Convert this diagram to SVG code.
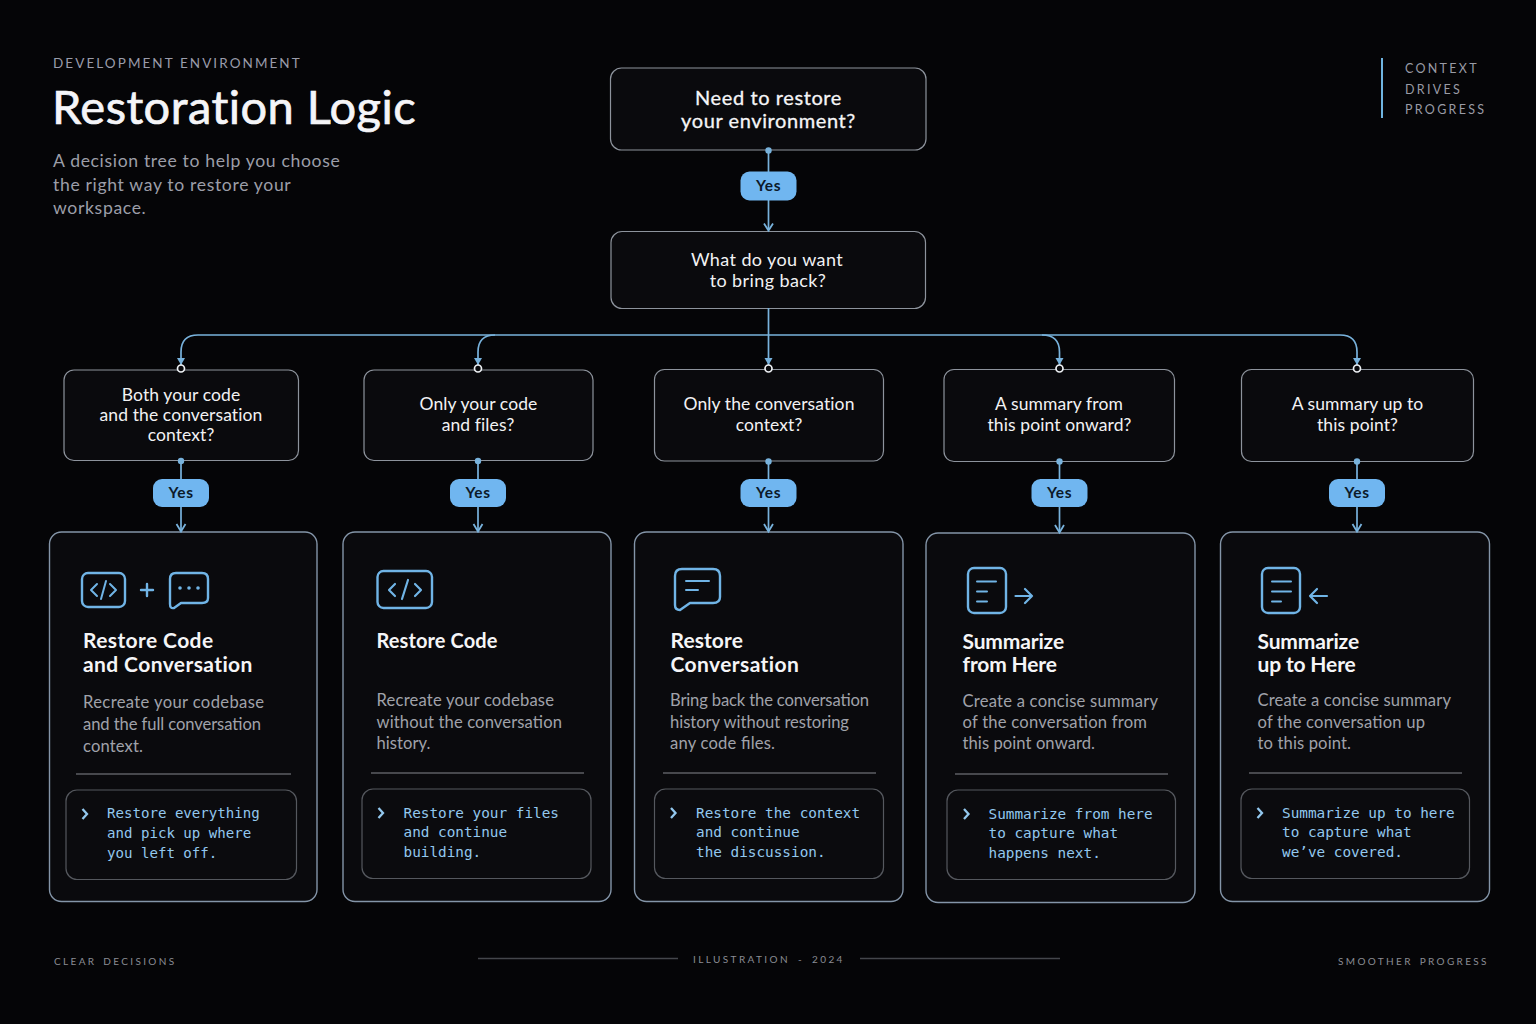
<svg xmlns="http://www.w3.org/2000/svg" width="1536" height="1024" viewBox="0 0 1536 1024">
<style>
text{font-family:"Lato","Noto Sans",sans-serif}
.q{fill:#0a0a0d;stroke:#8d939c;stroke-width:1.2}
.card{fill:#0a0a0d;stroke:#8495a8;stroke-width:1.4}
.inner{fill:#0b0b0e;stroke:#55585e;stroke-width:1.2}
.div{stroke:#5c5e63;stroke-width:1.3}
.qt{fill:#f2f2f4;font-size:17.5px;text-anchor:middle;letter-spacing:.1px}
.qb{fill:#f5f5f7;font-size:20px;text-anchor:middle;letter-spacing:.6px;stroke:#f5f5f7;stroke-width:.3px}
.title{fill:#f5f5f7;font-size:21px;font-weight:700;letter-spacing:.4px}
.tn{letter-spacing:-.15px}
.body{fill:#a0a2aa;font-size:16.6px}
.mono{fill:#93c8ee;font-family:"DejaVu Sans Mono","Liberation Mono",monospace;font-size:14.35px}
.m1{font-size:14.1px}
.pill{fill:#70b6f0}
.pt{fill:#0c1a2a;font-size:15.5px;font-weight:700;text-anchor:middle;letter-spacing:.6px}
.line{fill:none;stroke:#78b2dc;stroke-width:1.7}
.head{fill:none;stroke:#78b2dc;stroke-width:1.8}
.dot{fill:#78b2dc}
.ring{fill:#0a0a0d;stroke:#eef1f4;stroke-width:1.7}
.ic{fill:none;stroke:#70b4e6;stroke-width:2.4;stroke-linecap:round;stroke-linejoin:round}
.chev{fill:none;stroke:#93c8ee;stroke-width:2.3}
.foot{fill:#8a8c94;font-size:10px;letter-spacing:2.35px;word-spacing:2px}
.side{fill:#999ba5;font-size:12.5px;letter-spacing:2.3px}
</style>
<rect width="1536" height="1024" fill="#050507"/>

<g id="header">
<text x="53" y="68" fill="#9a9caa" font-size="13.500" letter-spacing="2.07">DEVELOPMENT ENVIRONMENT</text>
<text x="52" y="124" fill="#f5f5f8" stroke="#f5f5f8" stroke-width=".7" font-size="47" letter-spacing=".45">Restoration Logic</text>
<text x="53" y="167" fill="#9c9ea8" font-size="17.600" letter-spacing=".65">A decision tree to help you choose</text>
<text x="53" y="190.500" fill="#9c9ea8" font-size="17.600" letter-spacing=".65">the right way to restore your</text>
<text x="53" y="214" fill="#9c9ea8" font-size="17.600" letter-spacing=".65">workspace.</text>
</g>
<g id="tagline">
<rect x="1381" y="58" width="2" height="60" fill="#6fb4e0"/>
<text class="side" x="1405" y="73">CONTEXT</text>
<text class="side" x="1405" y="94">DRIVES</text>
<text class="side" x="1405" y="114">PROGRESS</text>
</g>

<g id="q-restore"><rect class="q" x="610.500" y="68" width="315.500" height="82" rx="11"/>
<text class="qb" x="768.500" y="105">Need to restore</text><text class="qb" x="768.500" y="128">your environment?</text></g>
<g id="q-bring"><rect class="q" x="611" y="231.500" width="314.500" height="77" rx="11"/>
<text class="qt" x="767" y="265.500" style="font-size:18px;letter-spacing:.4px">What do you want</text><text class="qt" x="768" y="287" style="font-size:18px;letter-spacing:.4px">to bring back?</text></g>

<g id="q1"><rect class="q" x="64" y="370" width="234.500" height="90.500" rx="10"/>
<text class="qt" x="181" y="400.500">Both your code</text><text class="qt" x="181" y="420.500">and the conversation</text><text class="qt" x="181" y="441">context?</text></g>
<g id="q2"><rect class="q" x="364" y="370" width="229" height="90.500" rx="10"/>
<text class="qt" x="478.500" y="410">Only your code</text><text class="qt" x="478" y="431">and files?</text></g>
<g id="q3"><rect class="q" x="654.500" y="369.500" width="229" height="91.500" rx="10"/>
<text class="qt" x="769" y="410">Only the conversation</text><text class="qt" x="769" y="431">context?</text></g>
<g id="q4"><rect class="q" x="944" y="369.500" width="230.500" height="92" rx="10"/>
<text class="qt" x="1059" y="410">A summary from</text><text class="qt" x="1059.500" y="431">this point onward?</text></g>
<g id="q5"><rect class="q" x="1241.500" y="369.500" width="232" height="92" rx="10"/>
<text class="qt" x="1357.500" y="410">A summary up to</text><text class="qt" x="1357.500" y="431">this point?</text></g>

<g id="card1"><rect class="card" x="49.500" y="532" width="267.500" height="369.500" rx="12"/>
<rect class="ic" x="82" y="573" width="43" height="34" rx="6"/>
<path class="ic" style="stroke-width:2" d="M97 584L91 590L97 596M110 584L116 590L110 596M106 581L101 599"/>
<path class="ic" d="M141 590H153M147 584V596"/>
<path class="ic" d="M176 573H202Q208 573 208 579V598Q208 603 202 603H181L174 608Q170 609 170 604V579Q170 573 176 573Z"/>
<circle cx="180" cy="588" r="1.800" fill="#70b4e6"/><circle cx="189" cy="588" r="1.800" fill="#70b4e6"/><circle cx="198" cy="588" r="1.800" fill="#70b4e6"/>
<text class="title" x="83" y="647.500">Restore Code</text><text class="title" x="83" y="671.500">and Conversation</text>
<text class="body" x="83" y="708" textLength="181">Recreate your codebase</text><text class="body" x="83" y="730" textLength="178">and the full conversation</text><text class="body" x="83" y="751.500" textLength="60">context.</text>
<line class="div" x1="76" y1="774" x2="291" y2="774"/>
<rect class="inner" x="66" y="790" width="230.500" height="89.500" rx="11"/>
<path class="chev" d="M82.500 809L87 814L82.500 819"/>
<text class="mono m1" x="107" y="818">Restore everything</text><text class="mono m1" x="107" y="838">and pick up where</text><text class="mono m1" x="107" y="858">you left off.</text></g>

<g id="card2"><rect class="card" x="343" y="532" width="268" height="369.500" rx="12"/>
<rect class="ic" x="377.500" y="571" width="54.500" height="37" rx="6"/>
<path class="ic" style="stroke-width:2.200" d="M395 584L389 590L395 596M415 584L421 590L415 596M408 580L402 599"/>
<text class="title" x="376.500" y="647.500" style="font-size:20px;letter-spacing:.1px">Restore Code</text>
<text class="body" x="376.500" y="706" textLength="177.500">Recreate your codebase</text><text class="body" x="376.500" y="728" textLength="185.500">without the conversation</text><text class="body" x="376.500" y="749" textLength="54">history.</text>
<line class="div" x1="371" y1="773" x2="584" y2="773"/>
<rect class="inner" x="362" y="789" width="229" height="89.500" rx="11"/>
<path class="chev" d="M378.500 808L383 813L378.500 818"/>
<text class="mono" x="403.500" y="818">Restore your files</text><text class="mono" x="403.500" y="837">and continue</text><text class="mono" x="403.500" y="857">building.</text></g>

<g id="card3"><rect class="card" x="634.500" y="532" width="268.500" height="369.500" rx="12"/>
<path class="ic" d="M682 569H713Q720 569 720 576V597Q720 603 713 603H690L680 610Q675 610 675 605V576Q675 569 682 569Z"/>
<path class="ic" style="stroke-width:2" d="M686 581H709M686 590H698"/>
<text class="title" x="670.500" y="647.500" style="letter-spacing:.1px">Restore</text><text class="title" x="670.500" y="671.500">Conversation</text>
<text class="body" x="670" y="706" textLength="199">Bring back the conversation</text><text class="body" x="670" y="728" textLength="179">history without restoring</text><text class="body" x="670" y="749" textLength="105">any code files.</text>
<line class="div" x1="663" y1="773" x2="876" y2="773"/>
<rect class="inner" x="654.500" y="789" width="229" height="89.500" rx="11"/>
<path class="chev" d="M671 808L675.500 813L671 818"/>
<text class="mono" x="696" y="818">Restore the context</text><text class="mono" x="696" y="837">and continue</text><text class="mono" x="696" y="857">the discussion.</text></g>

<g id="card4"><rect class="card" x="926" y="533" width="269" height="369.500" rx="12"/>
<rect class="ic" x="968" y="568" width="38" height="45" rx="6"/>
<path class="ic" style="stroke-width:2" d="M977 581.500H996M977 591.500H987M977 601.500H987"/>
<path class="ic" style="stroke-width:2.200" d="M1015.500 596H1032M1025 589L1032 596L1025 603"/>
<text class="title tn" x="962.500" y="648.500">Summarize</text><text class="title tn" x="962.500" y="672">from Here</text>
<text class="body" x="962.500" y="707" textLength="195.500">Create a concise summary</text><text class="body" x="962.500" y="728" textLength="184.500">of the conversation from</text><text class="body" x="962.500" y="749" textLength="132.500">this point onward.</text>
<line class="div" x1="955" y1="774" x2="1168" y2="774"/>
<rect class="inner" x="947" y="790" width="228.500" height="89.500" rx="11"/>
<path class="chev" d="M964 809L968.500 814L964 819"/>
<text class="mono" x="988.500" y="819">Summarize from here</text><text class="mono" x="988.500" y="838">to capture what</text><text class="mono" x="988.500" y="858">happens next.</text></g>

<g id="card5"><rect class="card" x="1220.500" y="532" width="269" height="369.500" rx="12"/>
<rect class="ic" x="1262" y="568" width="38" height="45" rx="6"/>
<path class="ic" style="stroke-width:2" d="M1272 581.500H1291M1272 591.500H1291M1272 601.500H1281"/>
<path class="ic" style="stroke-width:2.200" d="M1327 596H1310M1317 589L1310 596L1317 603"/>
<text class="title tn" x="1257.500" y="648.500">Summarize</text><text class="title tn" x="1257.500" y="671.500">up to Here</text>
<text class="body" x="1257.500" y="706" textLength="193.500">Create a concise summary</text><text class="body" x="1257.500" y="728" textLength="167.500">of the conversation up</text><text class="body" x="1257.500" y="749" textLength="93.500">to this point.</text>
<line class="div" x1="1249" y1="773" x2="1462" y2="773"/>
<rect class="inner" x="1241" y="789" width="228.500" height="89.500" rx="11"/>
<path class="chev" d="M1257.500 808L1262 813L1257.500 818"/>
<text class="mono" x="1282" y="818">Summarize up to here</text><text class="mono" x="1282" y="837">to capture what</text><text class="mono" x="1282" y="857">we’ve covered.</text></g>

<g id="connectors">
<path class="line" d="M768.500 150V172M768.500 200V230"/>
<path class="head" d="M764 223.500L768.500 230.500L773 223.500"/>
<circle class="dot" cx="768.500" cy="150.500" r="3.200"/>
<path class="line" d="M768.500 308V366"/>
<path class="line" d="M181 366V352Q181 335 198 335H1340Q1357 335 1357 352V366"/>
<path class="line" d="M478 366V352Q478 335 495 335M1042 335Q1059.500 335 1059.500 352V366"/>
<g class="dot">
<path d="M177 358H185L181 365Z"/><path d="M474 358H482L478 365Z"/><path d="M764.500 358H772.500L768.500 365Z"/><path d="M1055.500 358H1063.500L1059.500 365Z"/><path d="M1353 358H1361L1357 365Z"/>
</g>
<circle class="ring" cx="181" cy="368.500" r="3.500"/><circle class="ring" cx="478" cy="368.500" r="3.500"/><circle class="ring" cx="768.500" cy="368.500" r="3.500"/><circle class="ring" cx="1059.500" cy="368.500" r="3.500"/><circle class="ring" cx="1357" cy="368.500" r="3.500"/>
<path class="line" d="M181 461V480M181 507V531M478 461V480M478 507V531M768.500 461V480M768.500 507V531M1059.500 461V480M1059.500 507V532M1357 461V480M1357 507V531"/>
<path class="head" d="M176.500 524L181 531.500L185.500 524M473.500 524L478 531.500L482.500 524M764 524L768.500 531.500L773 524M1055 525L1059.500 532.500L1064 525M1352.500 524L1357 531.500L1361.500 524"/>
<g class="dot"><circle cx="181" cy="461" r="3.200"/><circle cx="478" cy="461" r="3.200"/><circle cx="768.500" cy="461.500" r="3.200"/><circle cx="1059.500" cy="461.500" r="3.200"/><circle cx="1357" cy="461.500" r="3.200"/></g>
</g>

<g id="yes-0"><rect class="pill" x="740.500" y="171.500" width="56" height="29" rx="9"/><text class="pt" x="768.500" y="191">Yes</text></g>
<g id="yes-1"><rect class="pill" x="153" y="479" width="56" height="28" rx="9"/><text class="pt" x="181" y="498">Yes</text></g>
<g id="yes-2"><rect class="pill" x="450" y="479" width="56" height="28" rx="9"/><text class="pt" x="478" y="498">Yes</text></g>
<g id="yes-3"><rect class="pill" x="740.500" y="479" width="56" height="28" rx="9"/><text class="pt" x="768.500" y="498">Yes</text></g>
<g id="yes-4"><rect class="pill" x="1031.500" y="479" width="56" height="28" rx="9"/><text class="pt" x="1059.500" y="498">Yes</text></g>
<g id="yes-5"><rect class="pill" x="1329" y="479" width="56" height="28" rx="9"/><text class="pt" x="1357" y="498">Yes</text></g>

<g id="footer">
<text class="foot" x="54" y="965">CLEAR DECISIONS</text>
<line class="div" x1="478" y1="958.500" x2="678" y2="958.500" style="stroke:#44464b"/>
<text class="foot" x="693" y="963" style="letter-spacing:2.4px;word-spacing:3px">ILLUSTRATION - 2024</text>
<line class="div" x1="860" y1="958.500" x2="1060" y2="958.500" style="stroke:#44464b"/>
<text class="foot" x="1338" y="965">SMOOTHER PROGRESS</text>
</g>
</svg>
